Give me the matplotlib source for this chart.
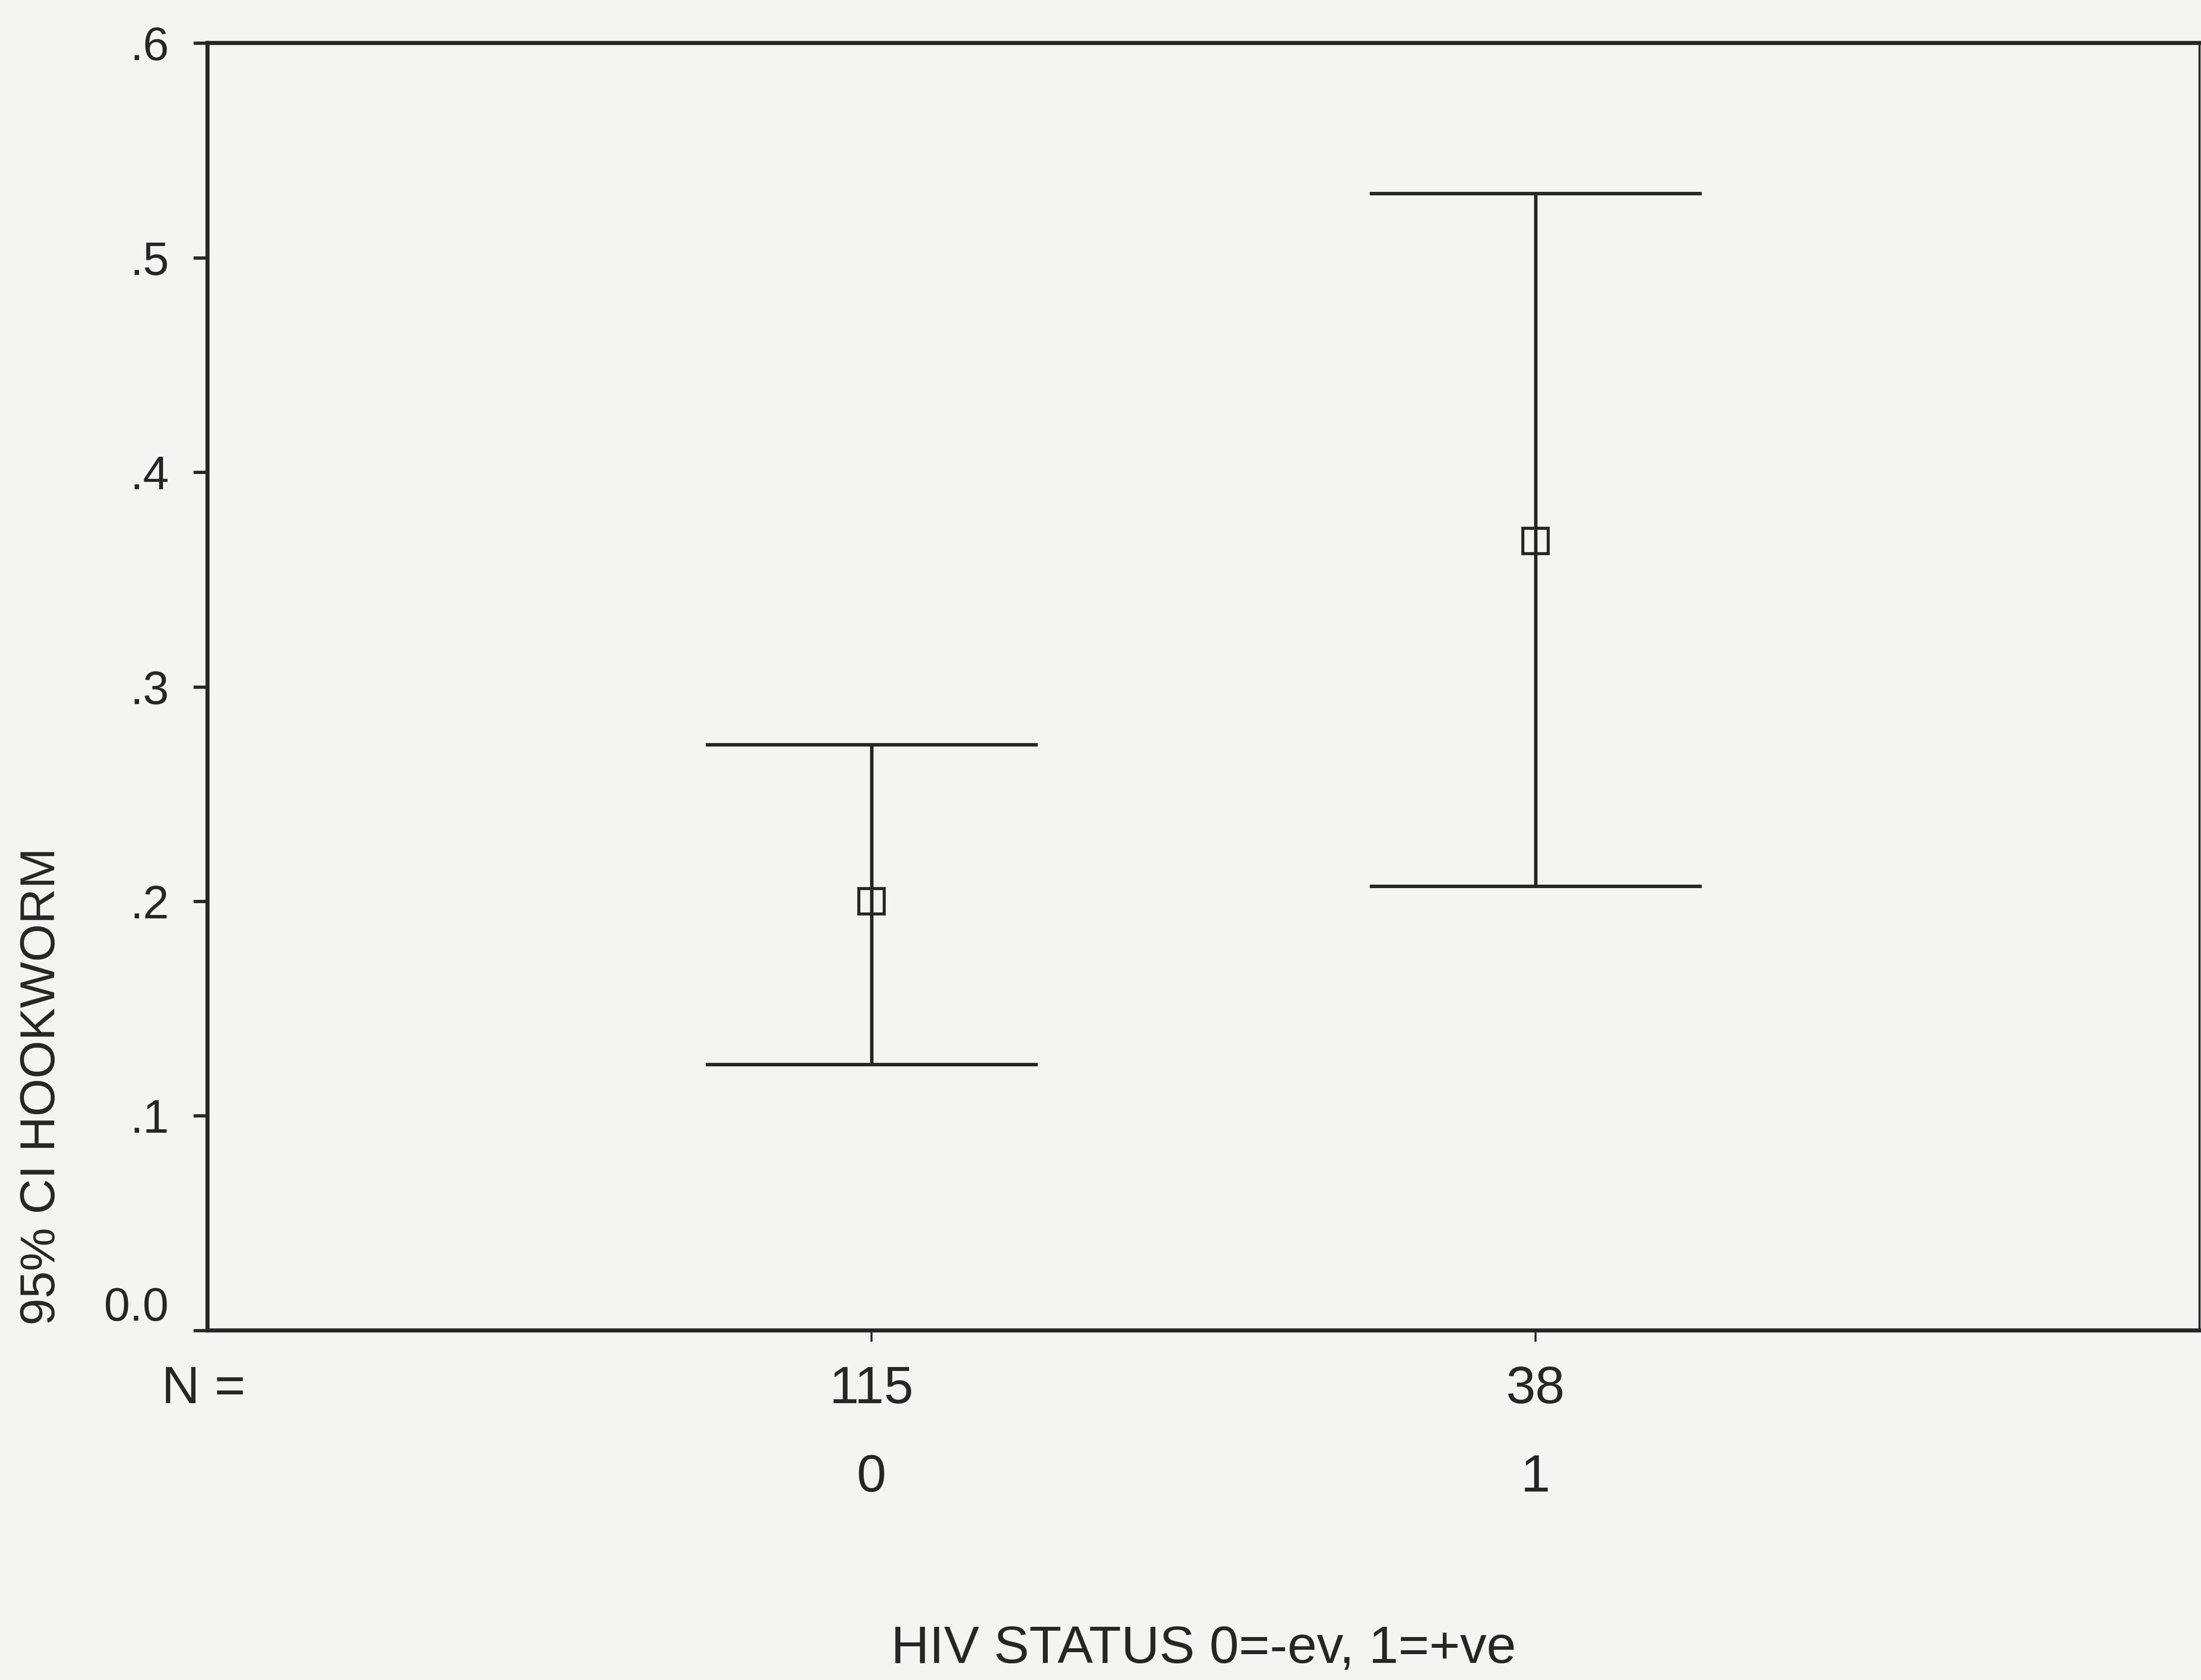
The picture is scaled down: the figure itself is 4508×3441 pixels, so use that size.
import matplotlib
matplotlib.use("Agg")
import matplotlib.pyplot as plt
import matplotlib.transforms as mtransforms

# 95% CI of hookworm prevalence by HIV status
groups = ["0", "1"]
n_counts = ["115", "38"]
means = [0.200, 0.368]
ci_low = [0.124, 0.207]
ci_high = [0.273, 0.530]

ytick_vals = [0.0, 0.1, 0.2, 0.3, 0.4, 0.5, 0.6]
ytick_labels = ["0.0", ".1", ".2", ".3", ".4", ".5", ".6"]

plt.rcParams['font.family'] = ['Liberation Sans Narrow', 'Liberation Sans', 'DejaVu Sans']
bg = "#f4f4f2"
ink = "#262626"

fig = plt.figure(figsize=(4508 / 300, 3441 / 300), dpi=300, facecolor=bg)
ax = fig.add_axes([0.0943, 0.2081, 0.905, 0.7663], facecolor=bg)

xpos = list(range(len(groups)))
cap = 0.25

ax.vlines(xpos, ci_low, ci_high, color=ink, lw=1.7)
ax.hlines(ci_high, [x - cap for x in xpos], [x + cap for x in xpos], color=ink, lw=1.7)
ax.hlines(ci_low, [x - cap for x in xpos], [x + cap for x in xpos], color=ink, lw=1.7)
ax.plot(xpos, means, ls="none", marker="s", ms=12.5, mfc="none", mec=ink, mew=1.5)

ax.set_xlim(-1, 2)
ax.set_ylim(0, 0.6)

for side in ["left", "bottom", "top"]:
    ax.spines[side].set_linewidth(2.0)
    ax.spines[side].set_color(ink)
ax.spines["right"].set_linewidth(1.0)
ax.spines["right"].set_color(ink)

ax.set_yticks(ytick_vals, labels=ytick_labels)
ax.tick_params(axis="y", direction="out", length=7, width=1.6, color=ink,
               labelsize=23, pad=12, labelcolor=ink)
ax.get_yticklabels()[0].set_verticalalignment("bottom")

ax.set_xticks(xpos, labels=["", ""])
ax.tick_params(axis="x", direction="out", length=5.5, width=1.0, color=ink)

trans = mtransforms.blended_transform_factory(ax.transData, ax.transAxes)
for x, n, g in zip(xpos, n_counts, groups):
    ax.text(x, -0.046, n, transform=trans, ha="center", va="center", fontsize=26, color=ink)
    ax.text(x, -0.1145, g, transform=trans, ha="center", va="center", fontsize=26, color=ink)
ax.text(-0.002, -0.046, "N =", transform=ax.transAxes, ha="center", va="center",
        fontsize=26, color=ink)

ax.set_xlabel("HIV STATUS 0=-ev, 1=+ve", fontsize=26, color=ink)
ax.xaxis.set_label_coords(0.5, -0.2476)
ax.xaxis.label.set_verticalalignment("center")

ax.set_ylabel("95% CI HOOKWORM", fontsize=24, color=ink)
ax.yaxis.set_label_coords(-0.083, 0.004)
ax.yaxis.label.set_horizontalalignment("left")
ax.yaxis.label.set_verticalalignment("center")

fig.savefig("out.png", dpi=300, facecolor=bg)
